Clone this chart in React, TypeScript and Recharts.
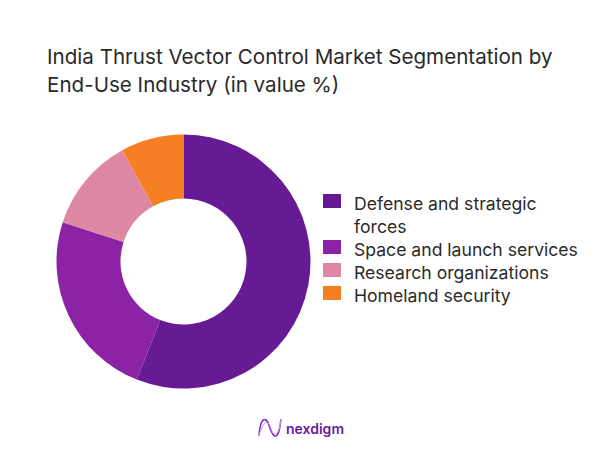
import { PieChart, Pie, Cell, Legend } from 'recharts';

const segments = ['Defense and strategic forces', 'Space and launch services', 'Research organizations', 'Homeland security'];
const shares = [56, 24, 12, 8];
const colors = ['#661A93', '#8C23A6', '#DE88A3', '#F57F22'];

const data = segments.map((name, i) => ({ name, value: shares[i] }));
const font = 'Inter, sans-serif';

function SegmentLegend() {
  return (
    <div style={{ fontFamily: font, fontSize: 17.6, lineHeight: '23px', color: '#2a2a2a' }}>
      {segments.map((name, i) => (
        <div key={name} style={{ display: 'flex' }}>
          <span style={{ width: 18, height: 14, marginTop: 2, marginRight: 13, flexShrink: 0, background: colors[i] }} />
          <span>{name}</span>
        </div>
      ))}
    </div>
  );
}

export default function App() {
  return (
    <div style={{ position: 'absolute', left: 0, top: 0, width: 602, height: 451, background: '#fff', overflow: 'hidden' }}>
      <div style={{ position: 'absolute', left: 47, top: 43, width: 540, fontFamily: font, fontSize: 20.6, lineHeight: '28px', color: '#2a2a2a' }}>
        India Thrust Vector Control Market Segmentation by End-Use Industry (in value %)
      </div>
      <PieChart width={602} height={451} margin={{ top: 0, right: 0, bottom: 0, left: 0 }}>
        <Pie
          data={data}
          dataKey="value"
          cx={183.5}
          cy={261.5}
          innerRadius={63}
          outerRadius={127}
          startAngle={90}
          endAngle={-270}
          stroke="none"
          isAnimationActive={false}
        >
          {data.map((d, i) => (
            <Cell key={d.name} fill={colors[i]} />
          ))}
        </Pie>
        <Legend
          layout="vertical"
          content={<SegmentLegend />}
          wrapperStyle={{ left: 323, top: 192, width: 261, bottom: 'auto', right: 'auto' }}
        />
      </PieChart>
      <svg style={{ position: 'absolute', left: 256, top: 416 }} width={28} height={24} fill="none">
        <path d="M3 20 C4 6 7 2 10 4 C14 7 14 18 19 20 C23 21 24 10 25 3" stroke="#7B2CBF" strokeWidth={1.6} />
        <path d="M3 20 C5 12 8 5 12 7 C15 9 15 16 18 18 C22 19 24 12 25 3" stroke="#C9A6E4" strokeWidth={1} />
      </svg>
      <div style={{ position: 'absolute', left: 286, top: 419, fontFamily: font, fontSize: 14, fontWeight: 600, lineHeight: '20px', color: '#6A1B9A' }}>
        nexdigm
      </div>
    </div>
  );
}
